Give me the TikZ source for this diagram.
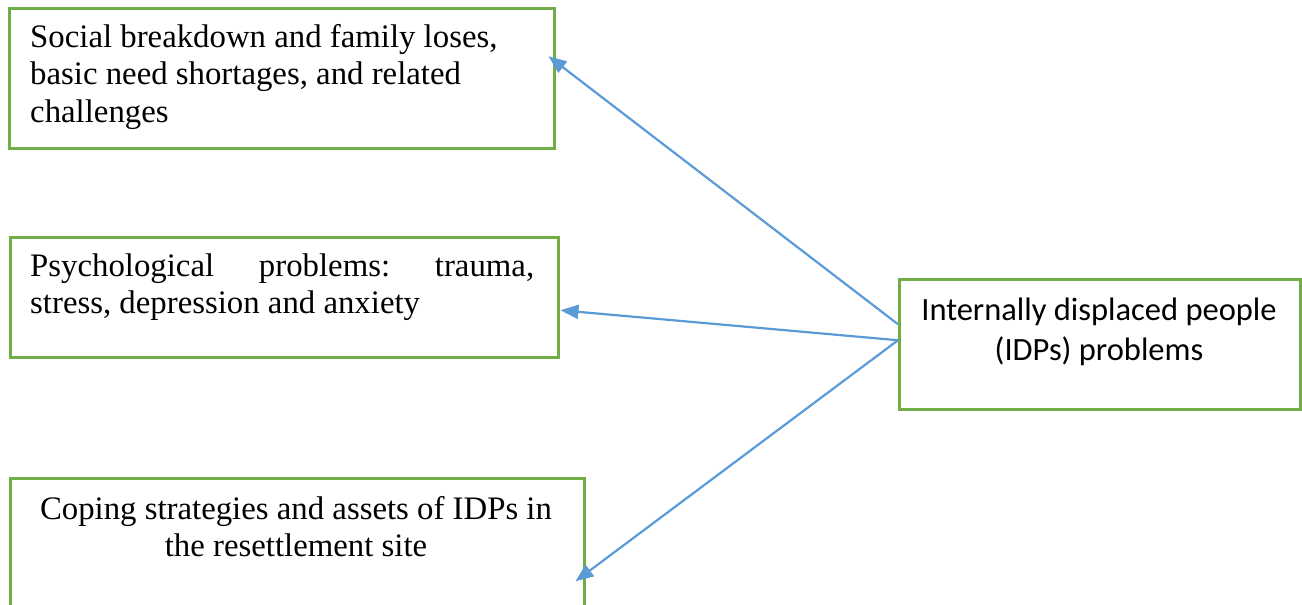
\documentclass[tikz,border=0pt]{standalone}
\usepackage{fontspec}
\setmainfont{Liberation Serif}
\newfontfamily\calibrifont{Carlito}
\usetikzlibrary{arrows.meta}
\definecolor{boxgreen}{HTML}{70AD47}
\definecolor{arrowblue}{HTML}{5B9BD5}
\newcommand{\normalspaces}{\spaceskip=0pt\xspaceskip=0pt\relax}
\tikzset{
  box/.style={draw=boxgreen, line width=2.5pt, rectangle, inner sep=0pt, anchor=north west},
  serif/.style={inner sep=0pt, font=\fontsize{32.8pt}{37.5pt}\selectfont},
  sans/.style={inner sep=0pt, font=\calibrifont\fontsize{32.5pt}{40pt}\selectfont},
  link/.style={draw=arrowblue, line width=2.2pt, -{Triangle[length=18pt,width=14pt]}}
}
\begin{document}
\begin{tikzpicture}[x=1pt,y=-1pt]
\useasboundingbox (0,0) rectangle (1302,605);
\clip (0,0) rectangle (1302,605);
\node[box, minimum width=545pt, minimum height=140pt] (b1) at (8,7) {};
\node[box, minimum width=548pt, minimum height=120pt] (b2) at (9,236) {};
\node[box, minimum width=574pt, minimum height=143pt] (b3) at (9,477) {};
\node[box, minimum width=401pt, minimum height=130pt] (b4) at (898,278) {};
\node[serif, anchor=base west, text width=510pt, align=left] (t1) at (30,47)
  {\normalspaces Social breakdown and family loses,\\basic need shortages, and related\\challenges};
\node[serif, anchor=base west, text width=504pt, align=left] (t2) at (30,276)
  {\normalspaces\hbox to 504pt{Psychological\hfill problems:\hfill trauma,}\\stress, depression and anxiety};
\node[serif, anchor=base, text width=540pt, align=center] (t3) at (296,519)
  {\normalspaces\mbox{Coping strategies and assets of IDPs in}\\\mbox{the resettlement site}};
\node[sans, anchor=base, text width=390pt, align=center] (t4) at (1099,320)
  {\normalspaces\mbox{Internally displaced people}\\\mbox{(IDPs) problems}};
\draw[link] ([yshift=20pt]b4.west) -- ([xshift=-7pt,yshift=22pt]b1.east);
\draw[link] ([yshift=4pt]b4.west) -- ([xshift=1pt,yshift=-13pt]b2.east);
\draw[link] ([yshift=4pt]b4.west) -- ([xshift=-10pt,yshift=-31.5pt]b3.east);
\end{tikzpicture}
\end{document}
